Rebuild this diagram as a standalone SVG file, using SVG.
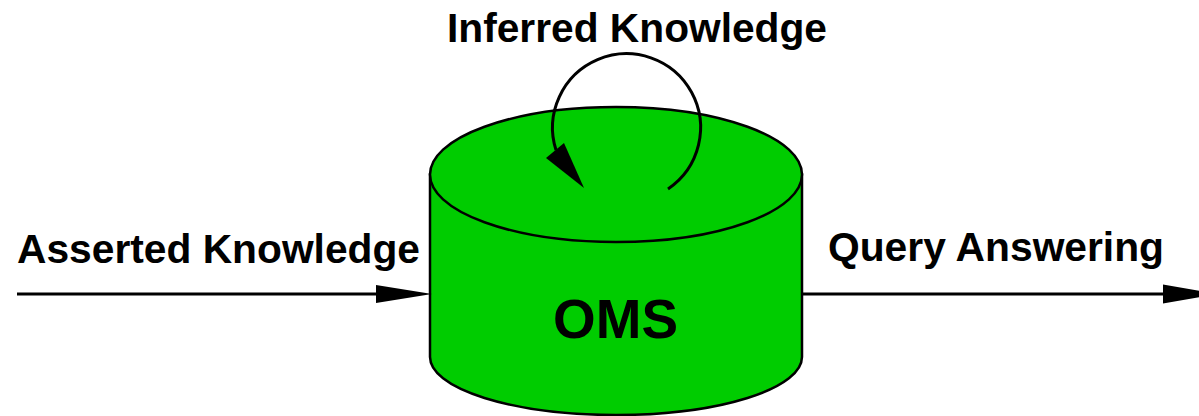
<svg xmlns="http://www.w3.org/2000/svg" width="1199" height="416" viewBox="0 0 1199 416">
  <defs>
    <style>
      .label { font-family: "Liberation Sans", Arial, sans-serif; font-weight: bold; fill: #000; }
      .edge { stroke: #000; stroke-width: 3; fill: none; }
      .head { fill: #000; stroke: none; }
      .db { fill: #00cc00; stroke: #000; stroke-width: 2.5; }
    </style>
  </defs>
  <rect width="1199" height="416" fill="#fff"/>

  <!-- database cylinder -->
  <g id="oms">
    <path class="db" d="M430,174.5 L430,357 A186,58 0 0 0 802,357 L802,174.5 Z"/>
    <ellipse class="db" cx="616" cy="174.5" rx="186" ry="67.5"/>
    <text class="label" x="553" y="338" font-size="56" textLength="125" lengthAdjust="spacingAndGlyphs">OMS</text>
  </g>

  <!-- connectors -->
  <g id="connectors">
    <line class="edge" x1="17" y1="294" x2="380" y2="294"/>
    <polygon class="head" points="376,285 432,294 376,303"/>
    <line class="edge" x1="802" y1="294" x2="1166" y2="294"/>
    <polygon class="head" points="1163,284.5 1217,294 1163,303.5"/>
    <path class="edge" stroke-width="2" d="M668,189 A74,74 0 1 0 556,150"/>
    <polygon class="head" points="584,188 546,158 564,143"/>
  </g>

  <g id="label-asserted">
    <text class="label" x="17" y="263" font-size="40" textLength="403" lengthAdjust="spacingAndGlyphs">Asserted Knowledge</text>
  </g>
  <g id="label-query">
    <text class="label" x="828" y="261" font-size="40" textLength="336" lengthAdjust="spacingAndGlyphs">Query Answering</text>
  </g>
  <g id="label-inferred">
    <text class="label" x="447" y="42" font-size="40" textLength="380" lengthAdjust="spacingAndGlyphs">Inferred Knowledge</text>
  </g>
</svg>
